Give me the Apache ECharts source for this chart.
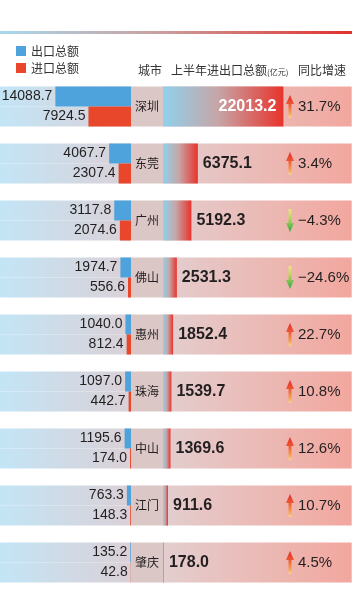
<!DOCTYPE html>
<html>
<head>
<meta charset="UTF-8">
<title></title>
<script src="https://cdn.jsdelivr.net/npm/echarts@6/dist/echarts.min.js"></script>
<style>
  html, body { margin: 0; padding: 0; background: #fff; }
  #chart { width: 352px; height: 600px; }
</style>
</head>
<body>
<div id="chart"></div>
<script>
// 数据
var cities = ['深圳', '东莞', '广州', '佛山', '惠州', '珠海', '中山', '江门', '肇庆'];
var exportVals = [14088.7, 4067.7, 3117.8, 1974.7, 1040.0, 1097.0, 1195.6, 763.3, 135.2];
var importVals = [7924.5, 2307.4, 2074.6, 556.6, 812.4, 442.7, 174.0, 148.3, 42.8];
var totalVals = [22013.2, 6375.1, 5192.3, 2531.3, 1852.4, 1539.7, 1369.6, 911.6, 178.0];
var growthVals = [31.7, 3.4, -4.3, -24.6, 22.7, 10.8, 12.6, 10.7, 4.5];
var legendNames = ['出口总额', '进口总额'];

var NUM_FONT = "'Liberation Sans', Arial, sans-serif";
var CJK_FONT = "'Noto Sans CJK SC', sans-serif";
var TEXT_COLOR = '#231f20';

function hGrad(stops) {
  return new echarts.graphic.LinearGradient(0, 0, 1, 0, stops);
}

// 箭头图标
function makeArrow(up) {
  var c = document.createElement('canvas');
  c.width = 8; c.height = 23;
  var g = c.getContext('2d');
  var grad = g.createLinearGradient(0, 0, 0, 23);
  if (up) {
    grad.addColorStop(0, '#e42d28');
    grad.addColorStop(0.35, '#ec5232');
    grad.addColorStop(0.75, '#f59a4c');
    grad.addColorStop(1, '#fad48c');
    g.beginPath();
    g.moveTo(4, 0); g.lineTo(8, 9); g.lineTo(5.5, 9); g.lineTo(5.5, 23);
    g.lineTo(2.5, 23); g.lineTo(2.5, 9); g.lineTo(0, 9); g.closePath();
  } else {
    grad.addColorStop(0, '#efe486');
    grad.addColorStop(0.4, '#b6d65c');
    grad.addColorStop(1, '#34a544');
    g.beginPath();
    g.moveTo(4, 23); g.lineTo(8, 14); g.lineTo(5.5, 14); g.lineTo(5.5, 0);
    g.lineTo(2.5, 0); g.lineTo(2.5, 14); g.lineTo(0, 14); g.closePath();
  }
  g.fillStyle = grad;
  g.fill();
  return c;
}
var upIcon = makeArrow(true);
var downIcon = makeArrow(false);

var leftBandColor = hGrad([{offset: 0, color: '#c3e5f6'}, {offset: 1, color: '#dbd0d6'}]);

var option = {
  animation: false,
  backgroundColor: '#fff',
  legend: {
    data: legendNames,
    left: 16,
    top: 45,
    padding: 0,
    orient: 'vertical',
    icon: 'rect',
    itemWidth: 10,
    itemHeight: 10,
    itemGap: 5,
    textStyle: { fontSize: 12, color: '#333', fontFamily: CJK_FONT }
  },
  graphic: [
    {
      type: 'rect',
      shape: { x: 0, y: 31, width: 352, height: 3 },
      style: { fill: hGrad([{offset: 0, color: '#a9d8ec'}, {offset: 0.45, color: '#c9a0a0'}, {offset: 1, color: '#e2302c'}]) }
    },
    {
      type: 'text', x: 138, y: 70,
      style: { text: '城市', fontSize: 12, fill: '#333', fontFamily: CJK_FONT, verticalAlign: 'middle' }
    },
    {
      type: 'text', x: 171, y: 70,
      style: {
        text: '{a|上半年进出口总额}{b|(亿元)}',
        verticalAlign: 'middle',
        rich: {
          a: { fontSize: 12, fill: '#333', fontFamily: CJK_FONT },
          b: { fontSize: 8, fill: '#333', fontFamily: CJK_FONT, padding: [3, 0, 0, 0] }
        }
      }
    },
    {
      type: 'text', x: 298, y: 70,
      style: { text: '同比增速', fontSize: 12, fill: '#333', fontFamily: CJK_FONT, verticalAlign: 'middle' }
    }
  ],
  grid: [
    { left: 0, width: 131, top: 78, height: 513 },
    { left: 163, width: 189, top: 78, height: 513 }
  ],
  xAxis: [
    { gridIndex: 0, type: 'value', inverse: true, min: 0, max: 24400, show: false },
    { gridIndex: 1, type: 'value', min: 0, max: 34500, show: false }
  ],
  yAxis: [
    {
      gridIndex: 0, type: 'category', data: cities, inverse: true, position: 'right',
      axisLine: { show: false, onZero: false }, axisTick: { show: false }, splitLine: { show: false },
      axisLabel: {
        margin: 0,
        formatter: function (v) { return '{c|' + v + '}'; },
        rich: {
          c: { width: 32, height: 40, align: 'center', backgroundColor: '#dcc7c7',
               fontSize: 12, color: TEXT_COLOR, fontFamily: CJK_FONT }
        }
      }
    },
    { gridIndex: 1, type: 'category', data: cities, inverse: true, show: false },
    {
      gridIndex: 1, type: 'category', data: cities, inverse: true, position: 'left',
      axisLine: { show: false, onZero: false }, axisTick: { show: false }, splitLine: { show: false },
      z: 10,
      axisLabel: {
        inside: true,
        margin: 123,
        formatter: function (v, i) {
          var g = growthVals[i];
          var txt = (g < 0 ? '\u2212' : '') + Math.abs(g).toFixed(1) + '%';
          return (g >= 0 ? '{up|}' : '{down|}') + '{t|' + txt + '}';
        },
        rich: {
          up: { width: 8, height: 23, backgroundColor: { image: upIcon } },
          down: { width: 8, height: 23, backgroundColor: { image: downIcon } },
          t: { fontSize: 15, color: TEXT_COLOR, fontFamily: NUM_FONT, padding: [0, 0, 0, 4] }
        }
      }
    }
  ],
  series: [
    {
      name: '出口总额', type: 'bar', xAxisIndex: 0, yAxisIndex: 0,
      data: exportVals, barWidth: 20, barGap: '0%',
      itemStyle: { color: '#4ea3dc' },
      showBackground: true, backgroundStyle: { color: leftBandColor },
      label: {
        show: true, position: 'left', distance: 3, fontSize: 14, color: TEXT_COLOR, fontFamily: NUM_FONT,
        formatter: function (p) { return p.value.toFixed(1); }
      }
    },
    {
      name: '进口总额', type: 'bar', xAxisIndex: 0, yAxisIndex: 0,
      data: importVals, barWidth: 20, barGap: '0%',
      itemStyle: { color: '#e8472b' },
      showBackground: true, backgroundStyle: { color: leftBandColor },
      label: {
        show: true, position: 'left', distance: 3, fontSize: 14, color: TEXT_COLOR, fontFamily: NUM_FONT,
        formatter: function (p) { return p.value.toFixed(1); }
      }
    },
    {
      name: '总额', type: 'bar', xAxisIndex: 1, yAxisIndex: 1,
      barWidth: 40,
      data: totalVals.map(function (v) {
        // 长条内部放白字
        if (v > 15000) {
          return { value: v, label: { position: 'insideRight', color: '#fff', distance: 7 } };
        }
        return v;
      }),
      itemStyle: {
        color: hGrad([{offset: 0, color: '#8fd1ec'}, {offset: 0.45, color: '#c6a6a8'}, {offset: 1, color: '#e8332c'}])
      },
      showBackground: true,
      backgroundStyle: { color: hGrad([{offset: 0, color: '#e3cecf'}, {offset: 1, color: '#f2a79e'}]) },
      label: {
        show: true, position: 'right', distance: 5, fontSize: 16, fontWeight: 'bold',
        color: TEXT_COLOR, fontFamily: NUM_FONT,
        formatter: function (p) { return p.value.toFixed(1); }
      }
    }
  ]
};

var myChart = echarts.init(document.getElementById('chart'));
myChart.setOption(option);
</script>
</body>
</html>
